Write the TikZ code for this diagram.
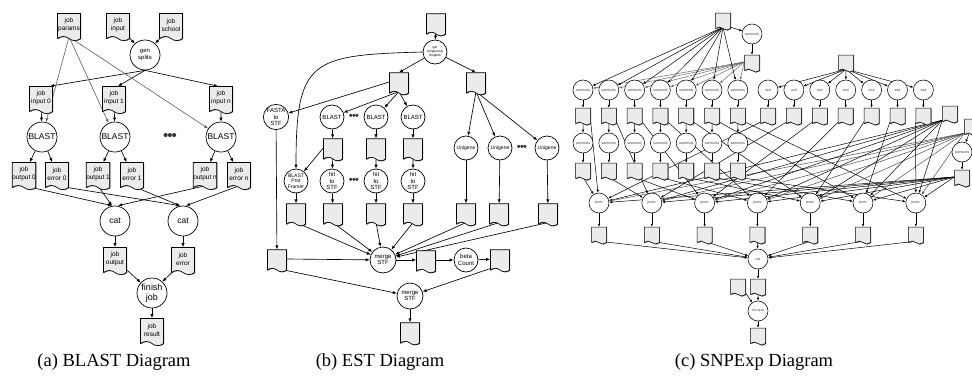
\documentclass[tikz,border=0pt]{standalone}
\usepackage{fontspec}
\setmainfont{Liberation Serif}
\newfontfamily\arialfont{Liberation Sans}
\usetikzlibrary{shapes.symbols, arrows.meta, shadows}
\pgfdeclarelayer{edges}
\pgfsetlayers{edges,main}
\tikzset{
  doc/.style={tape, tape bend top=none, tape bend bottom=out and in,
    draw=black, fill=black!8, line width=0.6pt, inner sep=0pt, align=center,
    drop shadow={shadow xshift=0.6pt, shadow yshift=-0.6pt, fill=black!70, opacity=1}},
  docA/.style={doc, minimum width=23pt, minimum height=27pt, tape bend height=4pt,
    font=\arialfont\fontsize{6.5}{7.5}\selectfont},
  docB/.style={doc, minimum width=19pt, minimum height=22pt, tape bend height=3.5pt},
  docC/.style={doc, minimum width=15pt, minimum height=17pt, tape bend height=3pt, line width=0.5pt},
  prog/.style={circle, draw=black, fill=white, line width=0.7pt, inner sep=0pt, align=center},
  progA/.style={prog, minimum size=30pt, font=\arialfont\fontsize{8.5}{9.5}\selectfont},
  progB/.style={prog, minimum size=24pt, font=\arialfont\fontsize{6}{6.5}\selectfont},
  progC/.style={prog, minimum size=20pt, line width=0.55pt, text=black!75,
    font=\arialfont\fontsize{3.6}{4}\selectfont},
  flow/.style={-{Latex[length=4pt,width=3.2pt]}, line width=0.65pt},
  flowC/.style={-{Latex[length=3pt,width=2.4pt]}, line width=0.5pt},
  ellip/.style={inner sep=0pt, text=black!80, font=\arialfont\fontsize{15}{15}\selectfont},
  caption/.style={font=\fontsize{18.5}{20}\selectfont, anchor=base},
}

\begin{document}
\begin{tikzpicture}[x=1pt,y=-1pt]
\useasboundingbox (0,0) rectangle (972,378);

% (a) BLAST
\node[docA] (params) at (69,25) {job\\params};
\node[docA] (input) at (118,25) {job\\input};
\node[docA] (school) at (171,25) {job\\school};
\node[progA, font=\arialfont\fontsize{6}{7}\selectfont] (gen) at (145,55) {gen\\splits};
\node[docA] (in0) at (41,98) {job\\input 0};
\node[docA] (in1) at (114,98) {job\\input 1};
\node[docA] (inn) at (221,98) {job\\input n};
\node[progA] (b0) at (42,137) {BLAST};
\node[progA] (b1) at (115,137) {BLAST};
\node[progA] (bn) at (221,137) {BLAST};
\node[ellip] (dotsa) at (170,137) {\textbullet\kern-1pt\textbullet\kern-1pt\textbullet};
\node[docA] (out0) at (24,174) {job\\output 0};
\node[docA] (err0) at (57,174) {job\\error 0};
\node[docA] (out1) at (98,174) {job\\output 1};
\node[docA] (err1) at (132,174) {job\\error 1};
\node[docA] (outn) at (205,174) {job\\output n};
\node[docA] (errn) at (239,174) {job\\error n};
\node[progA] (cat1) at (115,221) {cat};
\node[progA] (cat2) at (183,221) {cat};
\node[docA] (jout) at (115,259) {job\\output};
\node[docA] (jerr) at (183,259) {job\\error};
\node[progA, font=\arialfont\fontsize{9}{10}\selectfont] (fin) at (152,293) {finish\\job};
\node[docA] (res) at (152,330) {job\\result};

\begin{pgfonlayer}{edges}
\draw[flow] (input) -- (gen);
\draw[flow] (school) -- (gen);
\draw[flow] (gen.south) -- ([xshift=9pt]in0.north);
\draw[flow] (gen.south) -- ([xshift=4pt]in1.north);
\draw[flow] (gen.south) -- ([xshift=-3pt]inn.north);
\foreach \b in {b0,b1,bn}
  \draw[flow, draw=black!60] (params.south) -- (\b);
\foreach \i in {0,1,n} {
  \draw[flow] (in\i) -- (b\i);
  \draw[flow] (b\i) -- (out\i);
  \draw[flow] (b\i) -- (err\i);
}
\draw[flow] (out0.south) -- ([xshift=-3pt]cat1.north);
\draw[flow] (out1.south) -- ([xshift=-3pt]cat1.north);
\draw[flow] (outn.south) -- ([xshift=3pt]cat1.north);
\draw[flow] (err0.south) -- ([xshift=-3pt]cat2.north);
\draw[flow] (err1.south) -- ([xshift=-3pt]cat2.north);
\draw[flow] (errn.south) -- ([xshift=3pt]cat2.north);
\draw[flow] (cat1) -- (jout);
\draw[flow] (cat2) -- (jerr);
\draw[flow] (jout) -- (fin);
\draw[flow] (jerr) -- (fin);
\draw[flow] (fin) -- (res);
\end{pgfonlayer}

% (b) EST
\node[docB] (top) at (436,23) {};
\node[progB, font=\arialfont\fontsize{3.3}{3.8}\selectfont] (get) at (435,52) {get\\Unigenes\&\\Singlets};
\node[docB] (da) at (399,82) {};
\node[docB] (db) at (476,82) {};
\node[progB] (fasta) at (276,117) {FASTA\\to\\STF};
\node[progB] (bl1) at (332,117) {BLAST};
\node[progB] (bl2) at (376,117) {BLAST};
\node[progB] (bl3) at (413,117) {BLAST};
\node[ellip, font=\arialfont\fontsize{11}{11}\selectfont] (dotsb1) at (354,117) {\textbullet\kern-0.7pt\textbullet\kern-0.7pt\textbullet};
\node[docB] (bd1) at (333,148) {};
\node[docB] (bd2) at (376,148) {};
\node[docB] (bd3) at (413,148) {};
\node[progB, font=\arialfont\fontsize{5}{5.5}\selectfont] (u1) at (466,148) {Unigene};
\node[progB, font=\arialfont\fontsize{5}{5.5}\selectfont] (u2) at (500,148) {Unigene};
\node[progB, font=\arialfont\fontsize{5}{5.5}\selectfont] (u3) at (547,148) {Unigene};
\node[ellip, font=\arialfont\fontsize{11}{11}\selectfont] (dotsb2) at (522,148) {\textbullet\kern-0.7pt\textbullet\kern-0.7pt\textbullet};
\node[progB, font=\arialfont\fontsize{5}{5.5}\selectfont] (framer) at (296,181) {BLAST\\Prot\\Framer};
\node[progB] (h1) at (332,181) {hit\\to\\STF};
\node[progB] (h2) at (376,181) {hit\\to\\STF};
\node[progB] (h3) at (413,181) {hit\\to\\STF};
\node[ellip, font=\arialfont\fontsize{11}{11}\selectfont] (dotsb3) at (354,181) {\textbullet\kern-0.7pt\textbullet\kern-0.7pt\textbullet};
\node[docB] (r1) at (296,213) {};
\node[docB] (r2) at (333,213) {};
\node[docB] (r3) at (376,213) {};
\node[docB] (r4) at (413,213) {};
\node[docB] (r5) at (466,213) {};
\node[docB] (r6) at (499,213) {};
\node[docB] (r7) at (548,213) {};
\node[docB] (ld) at (277,259) {};
\node[progB, minimum size=26pt] (m1) at (383,260) {merge\\STF};
\node[docB] (md) at (426,260) {};
\node[progB] (beta) at (466,260) {beta\\Count};
\node[docB] (bd) at (500,259) {};
\node[progB, minimum size=26pt] (m2) at (410,296) {merge\\STF};
\node[docB] (fd) at (410,332) {};

\begin{pgfonlayer}{edges}
\draw[flow] (top) -- (get);
\draw[flow] (get) -- (da.north);
\draw[flow] (get) -- (db.north);
\draw[flow] (get.west) .. controls (310,55) and (296,60) .. (framer.north);
\draw[flow] (da.west) -- (fasta);
\foreach \n in {bl1,bl2,bl3}
  \draw[flow] (da.south) -- (\n);
\foreach \n in {u1,u2,u3}
  \draw[flow] (db.south) -- (\n);
\foreach \i in {1,2,3} {
  \draw[flow] (bl\i) -- (bd\i);
  \draw[flow] (bd\i) -- (h\i);
}
\draw[flow] (bd1.west) -- (framer);
\draw[flow] (framer) -- (r1);
\draw[flow] (h1) -- (r2);
\draw[flow] (h2) -- (r3);
\draw[flow] (h3) -- (r4);
\draw[flow] (u1) -- (r5);
\draw[flow] (u2) -- (r6);
\draw[flow] (u3) -- (r7);
\draw[flow] (fasta) -- (ld);
\foreach \i in {1,...,7}
  \draw[flow] (r\i.south) -- (m1);
\draw[flow] (ld.east) -- (m1);
\draw[flow] (m1) -- (md);
\draw[flow] (md) -- (beta);
\draw[flow] (beta) -- (bd);
\draw[flow] (ld.south) -- (m2);
\draw[flow] (bd.south west) -- (m2);
\draw[flow] (m2) -- (fd);
\end{pgfonlayer}

% (c) SNPExp
\node[docC] (T) at (723,20) {};
\node[progC] (S0) at (752,34) {samtools};
\node[docC] (D0) at (752,62) {};
\node[docC] (E) at (846,62) {};
\node[docC] (F) at (950,113) {};
\node[docC] (G) at (972,126) {};
\node[progC] (S9) at (962,152) {samtools};
\node[docC] (H) at (962,177) {};
\foreach \i in {1,...,7} {
  \pgfmathsetmacro\xs{583+25.8*(\i-1)}
  \pgfmathsetmacro\xd{768+25.9*(\i-1)}
  \pgfmathsetmacro\xj{599+52.8*(\i-1)}
  \node[progC] (s1\i) at (\xs,90) {samtools};
  \node[docC] (a\i) at (\xs,115) {};
  \node[progC] (s2\i) at (\xs,143) {samtools};
  \node[docC] (b\i) at (\xs,170) {};
  \node[progC] (sd\i) at (\xd,90) {sed};
  \node[docC] (e\i) at (\xd,115) {};
  \node[progC] (j\i) at (\xj,203) {jexec};
  \node[docC] (o\i) at (\xj,234) {};
}
\node[progC] (catc) at (758,259) {cat};
\node[docC] (q1) at (738,286) {};
\node[docC] (q2) at (758,286) {};
\node[progC, font=\arialfont\fontsize{3.2}{4}\selectfont] (fj) at (758,311) {finishjob};
\node[docC] (fr) at (758,335) {};

\begin{pgfonlayer}{edges}
\draw[flowC] (T.south east) -- (S0);
\draw[flowC] (S0) -- (D0);
\draw[flowC] (G) -- (S9);
\draw[flowC] (S9) -- (H);
\foreach \i in {1,...,7} {
  \draw[flowC] (T.south) -- (s1\i);
  \draw[flowC, draw=black!60] (D0.west) -- (s1\i);
  \draw[flowC] (E.south) -- (sd\i);
  \draw[flowC] (s1\i) -- (a\i);
  \draw[flowC] (sd\i) -- (e\i);
  \draw[flowC] (a\i) -- (s2\i);
  \draw[flowC] (s2\i) -- (b\i);
  \draw[flowC] (a\i.south east) -- (j\i);
  \draw[flowC] (b\i.south) -- (j\i);
  \draw[flowC] (e\i.south west) -- (j\i);
  \draw[flowC] (F.south west) -- (j\i);
  \draw[flowC, draw=black!70] (G.south west) -- (j\i);
  \draw[flowC] (H.west) -- (j\i);
  \draw[flowC] (j\i) -- (o\i);
  \draw[flowC] (o\i.south) -- (catc);
}
\draw[flowC] (catc) -- (q2);
\draw[flowC] (q1.south east) -- (fj);
\draw[flowC] (q2) -- (fj);
\draw[flowC] (fj) -- (fr);
\end{pgfonlayer}

% captions
\node[caption] (capa) at (114,366) {(a) BLAST Diagram};
\node[caption] (capb) at (380,366) {(b) EST Diagram};
\node[caption] (capc) at (754,366) {(c) SNPExp Diagram};
\end{tikzpicture}
\end{document}
